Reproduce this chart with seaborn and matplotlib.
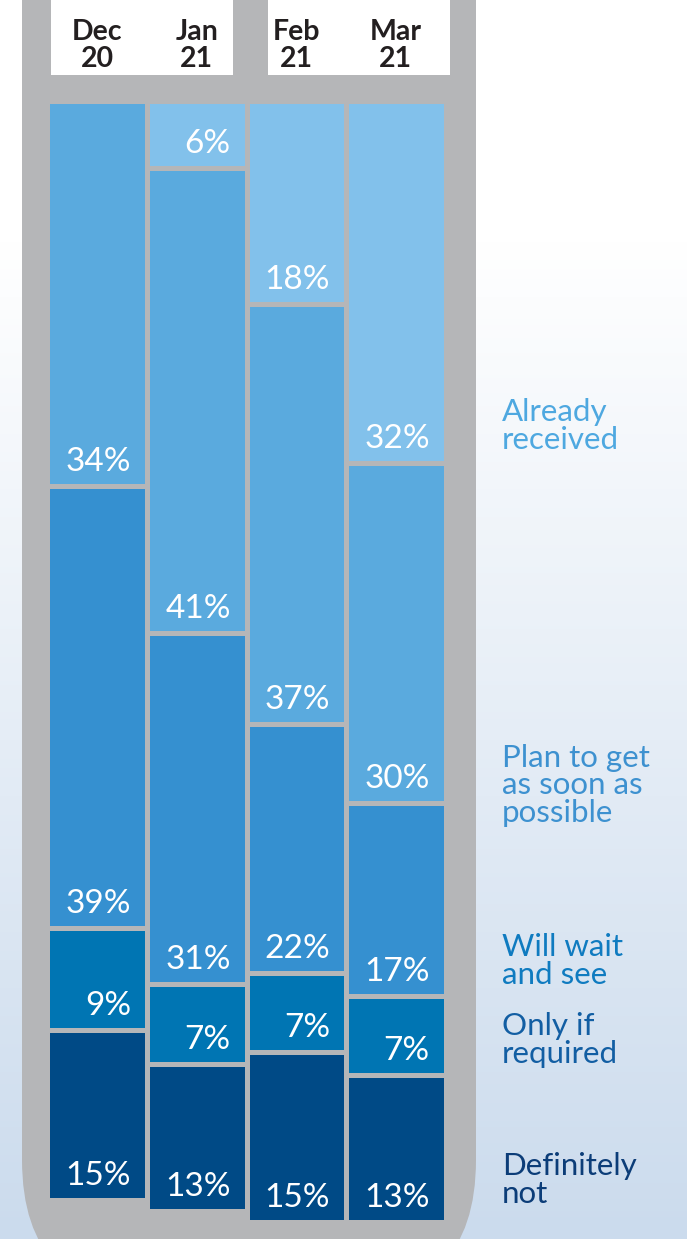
import numpy as np
import pandas as pd
import matplotlib
matplotlib.use("Agg")
import matplotlib.pyplot as plt
import seaborn as sns
from matplotlib.patches import FancyBboxPatch, Rectangle
from matplotlib.colors import to_rgb

# ---------------- data ----------------
months = ["Dec\n20", "Jan\n21", "Feb\n21", "Mar\n21"]
categories = ["Already\nreceived", "Plan to get\nas soon as\npossible",
              "Will wait\nand see", "Only if\nrequired", "Definitely\nnot"]
already_received = [0, 6, 18, 32]
plan_to_get = [34, 41, 37, 30]
wait_and_see = [39, 31, 22, 17]
only_if_required = [9, 7, 7, 7]
definitely_not = [15, 13, 15, 13]

series = [already_received, plan_to_get, wait_and_see, only_if_required, definitely_not]
bar_colors = ["#82c1eb", "#5aaade", "#3590d0", "#0075b3", "#004a86"]
label_colors = ["#4ea8e0", "#3d91d0", "#0f7bc0", "#125ea3", "#0c3d78"]

# ---------------- layout ----------------
W, H = 687, 1239
DPI = 100
PX_PER_PCT = 11.33
TOP_PX = 100.5
BAR_PX = 99.5
X0_PX = 97.25
GAP_COLOR = "#b5b6b8"

sns.set_theme(style="white")
plt.rcParams["font.family"] = ["Lato", "DejaVu Sans"]

fig = plt.figure(figsize=(W / DPI, H / DPI), dpi=DPI)

# background axes in pixel coordinates
bg = fig.add_axes([0, 0, 1, 1], zorder=0)
bg.set_xlim(0, W)
bg.set_ylim(H, 0)
bg.axis("off")

top_c = np.array(to_rgb("#ffffff"))
bot_c = np.array(to_rgb("#cbdbed"))
ys = np.linspace(0, H, 400)
t = np.clip((ys - 240) / (H - 240), 0, 1)[:, None]
grad = (top_c * (1 - t) + bot_c * t)[:, None, :]
bg.imshow(grad, extent=[0, W, H, 0], aspect="auto", zorder=0)

panel = FancyBboxPatch((22, -300), 454, 1600,
                       boxstyle="round,pad=0,rounding_size=140",
                       facecolor=GAP_COLOR, edgecolor="none", zorder=1)
bg.add_patch(panel)
bg.add_patch(Rectangle((51, -10), 182, 85, facecolor="white", edgecolor="none", zorder=2))
bg.add_patch(Rectangle((268, -10), 182, 85, facecolor="white", edgecolor="none", zorder=2))

# right-side category labels (last-line baselines in px)
label_baselines = [449, 822, 984, 1063, 1203]
for cat, col, yb in zip(categories, label_colors, label_baselines):
    bg.text(502, yb, cat, color=col, fontsize=22.5, ha="left", va="baseline",
            linespacing=0.98, zorder=3)

# ---------------- bars ----------------
ax = fig.add_axes([0, 0, 1, 1], zorder=1)
ax.patch.set_alpha(0)

records = []
for ci, (cat, vals) in enumerate(zip(categories, series)):
    for mi, m in enumerate(months):
        cum = sum(series[k][mi] for k in range(ci + 1))
        records.append({"month": m, "category": cat, "value": vals[mi], "cum": cum})
df = pd.DataFrame(records)

for ci in range(len(categories) - 1, -1, -1):
    sub = df[df["category"] == categories[ci]]
    sns.barplot(data=sub, x="month", y="cum", order=months, color=bar_colors[ci],
                saturation=1, width=1.0, errorbar=None, edgecolor=GAP_COLOR,
                linewidth=3.6, ax=ax)

label_off = 15 / PX_PER_PCT
for _, r in df.iterrows():
    if r["value"] > 0:
        i = months.index(r["month"])
        ax.text(i + 0.342, r["cum"] - label_off, f"{r['value']}%", color="white",
                fontsize=24, fontweight="normal", ha="right", va="baseline")

for i, m in enumerate(months):
    ax.text(i, (67 - TOP_PX) / PX_PER_PCT, m, color="#231f20", fontsize=20.5,
            fontweight="bold", ha="center", va="baseline", linespacing=1.05)

ax.set_xlim(-X0_PX / BAR_PX, (W - X0_PX) / BAR_PX)
ax.set_ylim((H - TOP_PX) / PX_PER_PCT, -TOP_PX / PX_PER_PCT)
ax.axis("off")

fig.savefig("out.png", dpi=DPI)
